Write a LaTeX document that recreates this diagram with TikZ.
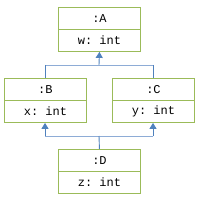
\documentclass[tikz,border=0pt]{standalone}
\usepackage{fontspec}
\setmonofont{Liberation Mono}
\usetikzlibrary{arrows.meta}
\definecolor{boxgreen}{HTML}{9BBB59}
\definecolor{linkblue}{HTML}{4F81BD}
\definecolor{linklight}{HTML}{8EACD6}
\begin{document}
\begin{tikzpicture}[x=1pt,y=-1pt,
  part/.style={draw=boxgreen,line width=0.9pt,minimum width=82pt,minimum height=22pt,inner sep=0pt,font=\ttfamily\fontsize{12}{13}\selectfont,anchor=north west},
  link/.style={draw=linkblue,line width=0.9pt},
  tip/.style={-{Triangle[length=6pt,width=7pt]}}]
\useasboundingbox (0,0) rectangle (200,200);
% A
\node[part] (a1) at (58,7) {:A};
\node[part] (a2) at (58,29) {w: int};
% B
\node[part] (b1) at (4,78) {:B};
\node[part] (b2) at (4,100) {x: int};
% C
\node[part] (c1) at (112,78) {:C};
\node[part] (c2) at (112,100) {y: int};
% D
\node[part] (d1) at (58,149) {:D};
\node[part] (d2) at (58,171) {z: int};
% junctions
\coordinate (j1) at (99,65);
\coordinate (jb) at (45,65);
\coordinate (jc) at (153,65);
\coordinate (k1) at (99,136);
\coordinate (kb) at (45,136);
\coordinate (kc) at (153,136);
\draw[draw=linklight,line width=0.9pt] (jb) -- (jc);
\draw[draw=linklight,line width=0.9pt] (kb) -- (kc);
\draw[link] (jb) -- (jb |- b1.north);
\draw[link] (jc) -- (jc |- c1.north);
\draw[link,tip] (j1) -- (a2.south);
\draw[link] (d1.north) -- (k1);
\draw[link,tip] (kb) -- (kb |- b2.south);
\draw[link,tip] (kc) -- (kc |- c2.south);
\end{tikzpicture}
\end{document}
